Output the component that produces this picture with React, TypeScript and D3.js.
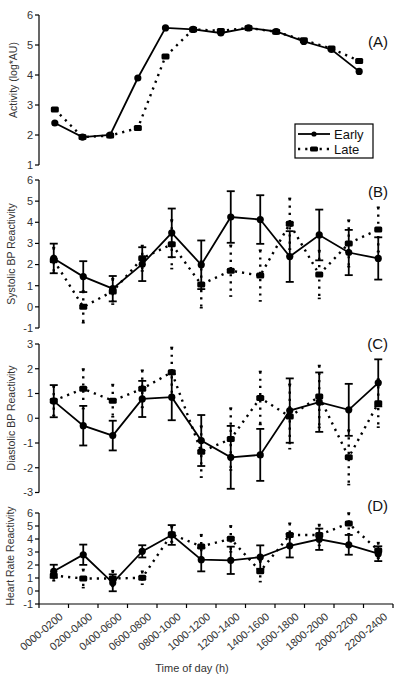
import React from "react";
import * as d3 from "d3";

const categories = ["0000-0200","0200-0400","0400-0600","0600-0800","0800-1000","1000-1200","1200-1400","1400-1600","1600-1800","1800-2000","2000-2200","2200-2400"];

const activityEarly = [2.4, 1.93, 2.0, 3.9, 5.57, 5.52, 5.4, 5.57, 5.45, 5.12, 4.85, 4.12];
const activityLate = [2.85, 1.93, 1.98, 2.23, 4.62, 5.52, 5.47, 5.57, 5.44, 5.16, 4.88, 4.47];

const sbpEarly = [2.29, 1.43, 0.86, 2.02, 3.5, 1.99, 4.25, 4.13, 2.38, 3.4, 2.57, 2.29];
const sbpEarlyErr = [0.7, 0.73, 0.6, 0.8, 1.15, 1.15, 1.22, 1.15, 1.2, 1.2, 1.07, 1.0];
const sbpLate = [2.2, 0.0, 0.73, 2.3, 2.96, 1.06, 1.71, 1.48, 3.93, 1.53, 3.0, 3.66];
const sbpLateErr = [0.6, 0.75, 0.6, 0.6, 1.15, 1.1, 1.2, 1.2, 1.2, 1.13, 1.1, 1.05];

const dbpEarly = [0.69, -0.3, -0.7, 0.78, 0.85, -0.9, -1.58, -1.48, 0.31, 0.65, 0.34, 1.43];
const dbpEarlyErr = [0.65, 0.8, 0.6, 0.73, 0.93, 1.03, 1.27, 1.05, 1.3, 1.2, 1.05, 0.95];
const dbpLate = [0.71, 1.19, 0.71, 1.19, 1.86, -1.35, -0.84, 0.82, 0.07, 0.88, -1.58, 0.61];
const dbpLateErr = [0.6, 0.8, 0.65, 0.75, 1.0, 1.03, 1.25, 1.07, 1.3, 1.25, 1.1, 0.97];

const hrEarly = [1.52, 2.79, 0.63, 3.05, 4.31, 2.41, 2.36, 2.61, 3.48, 3.98, 3.55, 2.87];
const hrEarlyErr = [0.5, 0.78, 0.65, 0.47, 0.76, 0.9, 1.05, 0.9, 0.9, 0.82, 0.76, 0.57];
const hrLate = [1.19, 0.96, 0.96, 1.02, 4.37, 3.43, 4.01, 1.52, 4.31, 4.31, 5.2, 3.12];
const hrLateErr = [0.4, 0.7, 0.6, 0.5, 0.6, 0.9, 1.0, 0.8, 0.9, 0.8, 0.8, 0.6];

const FONT = "'Liberation Sans', Arial, sans-serif";
const AXIS_X = 39;

type Panel = {
  label: string;
  ylabel: string;
  domain: [number, number];
  range: [number, number];
  ticks: number[];
  xr: [number, number];
  early: number[];
  late: number[];
  earlyErr?: number[];
  lateErr?: number[];
  labelY: number;
  ylabelX: number;
  ylabelY: number;
};

const panels: Panel[] = [
  { label: "(A)", ylabel: "Activity (log*AU)", domain: [1, 6], range: [165, 15], ticks: d3.range(1, 7), xr: [41, 373], early: activityEarly, late: activityLate, labelY: 47, ylabelX: 13, ylabelY: 80 },
  { label: "(B)", ylabel: "Systolic BP Reactivity", domain: [-1, 6], range: [328, 180], ticks: d3.range(-1, 7), xr: [AXIS_X, 393], early: sbpEarly, late: sbpLate, earlyErr: sbpEarlyErr, lateErr: sbpLateErr, labelY: 197, ylabelX: 11, ylabelY: 254 },
  { label: "(C)", ylabel: "Diastolic BP Reactivity", domain: [-3, 3], range: [492.5, 344], ticks: d3.range(-3, 4), xr: [AXIS_X, 393], early: dbpEarly, late: dbpLate, earlyErr: dbpEarlyErr, lateErr: dbpLateErr, labelY: 349, ylabelX: 11, ylabelY: 418 },
  { label: "(D)", ylabel: "Heart Rate Reactivity", domain: [-1, 6], range: [604, 513], ticks: d3.range(-1, 7), xr: [AXIS_X, 393], early: hrEarly, late: hrLate, earlyErr: hrEarlyErr, lateErr: hrLateErr, labelY: 511, ylabelX: 10, ylabelY: 556 },
];

const DOT = "2.2,5";

function PanelView({ p, isLast }: { p: Panel; isLast: boolean }) {
  const x = d3.scaleBand<string>().domain(categories).range(p.xr);
  const y = d3.scaleLinear().domain(p.domain).range(p.range);
  const cx = (i: number) => (x(categories[i]) as number) + x.bandwidth() / 2;
  const line = d3.line<number>().x((_, i) => cx(i)).y((v) => y(v));
  const cap = 4;
  return (
    <g>
      <line x1={AXIS_X} x2={AXIS_X} y1={p.range[0]} y2={p.range[1]} stroke="#000" strokeWidth={1.2} />
      {p.ticks.map((t) => (
        <g key={t}>
          <line x1={AXIS_X - 4} x2={AXIS_X} y1={y(t)} y2={y(t)} stroke="#000" strokeWidth={1.2} />
          <text x={AXIS_X - 6} y={y(t)} dy="0.35em" textAnchor="end" fontSize={11} fontFamily={FONT} fill="#333">{t}</text>
        </g>
      ))}
      <text transform={`translate(${p.ylabelX},${p.ylabelY}) rotate(-90)`} textAnchor="middle" dy="0.35em" fontSize={10.5} fontFamily={FONT} fill="#333">{p.ylabel}</text>
      <text x={388} y={p.labelY} textAnchor="end" fontSize={15} fontFamily={FONT} fill="#111">{p.label}</text>

      {p.lateErr && p.late.map((v, i) => (
        <g key={"le" + i} stroke="#000" strokeWidth={2.4} strokeDasharray={DOT}>
          <line x1={cx(i)} x2={cx(i)} y1={y(v + p.lateErr![i])} y2={y(v - p.lateErr![i])} />
          <line x1={cx(i) - 1.5} x2={cx(i) + 1.5} y1={y(v + p.lateErr![i])} y2={y(v + p.lateErr![i])} strokeDasharray="none" strokeWidth={1.6} />
          <line x1={cx(i) - 1.5} x2={cx(i) + 1.5} y1={y(v - p.lateErr![i])} y2={y(v - p.lateErr![i])} strokeDasharray="none" strokeWidth={1.6} />
        </g>
      ))}
      <path d={line(p.late) || ""} fill="none" stroke="#000" strokeWidth={2.4} strokeDasharray={DOT} />
      {p.late.map((v, i) => (
        <rect key={"lm" + i} x={cx(i) - 4} y={y(v) - 3} width={8} height={6} rx={1.5} fill="#000" />
      ))}

      {p.earlyErr && p.early.map((v, i) => (
        <g key={"ee" + i} stroke="#000" strokeWidth={1.8}>
          <line x1={cx(i)} x2={cx(i)} y1={y(v + p.earlyErr![i])} y2={y(v - p.earlyErr![i])} />
          <line x1={cx(i) - cap} x2={cx(i) + cap} y1={y(v + p.earlyErr![i])} y2={y(v + p.earlyErr![i])} />
          <line x1={cx(i) - cap} x2={cx(i) + cap} y1={y(v - p.earlyErr![i])} y2={y(v - p.earlyErr![i])} />
        </g>
      ))}
      <path d={line(p.early) || ""} fill="none" stroke="#000" strokeWidth={1.8} />
      {p.early.map((v, i) => (
        <circle key={"em" + i} cx={cx(i)} cy={y(v)} r={3.6} fill="#000" />
      ))}

      {isLast && (
        <g>
          <line x1={AXIS_X} x2={393} y1={p.range[0]} y2={p.range[0]} stroke="#000" strokeWidth={1.2} />
          {d3.range(categories.length + 1).map((k) => {
            const xx = AXIS_X + k * x.bandwidth();
            return <line key={"xt" + k} x1={xx} x2={xx} y1={p.range[0]} y2={p.range[0] + 4} stroke="#000" strokeWidth={1.2} />;
          })}
          {categories.map((c, i) => (
            <text key={c} transform={`translate(${cx(i) + 5},${p.range[0] + 8}) rotate(-40)`} textAnchor="end" dy="0.7em" fontSize={10.8} fontFamily={FONT} fill="#333">{c}</text>
          ))}
          <text x={192} y={672} textAnchor="middle" fontSize={11} fontFamily={FONT} fill="#333">Time of day (h)</text>
        </g>
      )}
    </g>
  );
}

export default function App() {
  return (
    <svg width={400} height={681} style={{ position: "absolute", left: 0, top: 0, background: "#fff" }}>
      <rect width={400} height={681} fill="#fff" />
      {panels.map((p, i) => (
        <PanelView key={p.label} p={p} isLast={i === panels.length - 1} />
      ))}
      <g>
        <rect x={295} y={124} width={78} height={34} fill="#fff" stroke="#000" strokeWidth={1.2} />
        <line x1={298} x2={330} y1={134} y2={134} stroke="#000" strokeWidth={1.8} />
        <circle cx={314} cy={134} r={2.6} fill="#000" />
        <text x={334} y={134} dy="0.35em" fontSize={13} fontFamily={FONT} fill="#111">Early</text>
        <line x1={298} x2={330} y1={149} y2={149} stroke="#000" strokeWidth={2.4} strokeDasharray={DOT} />
        <rect x={310} y={146.5} width={8} height={5} rx={1.5} fill="#000" />
        <text x={334} y={149} dy="0.35em" fontSize={13} fontFamily={FONT} fill="#111">Late</text>
      </g>
    </svg>
  );
}
